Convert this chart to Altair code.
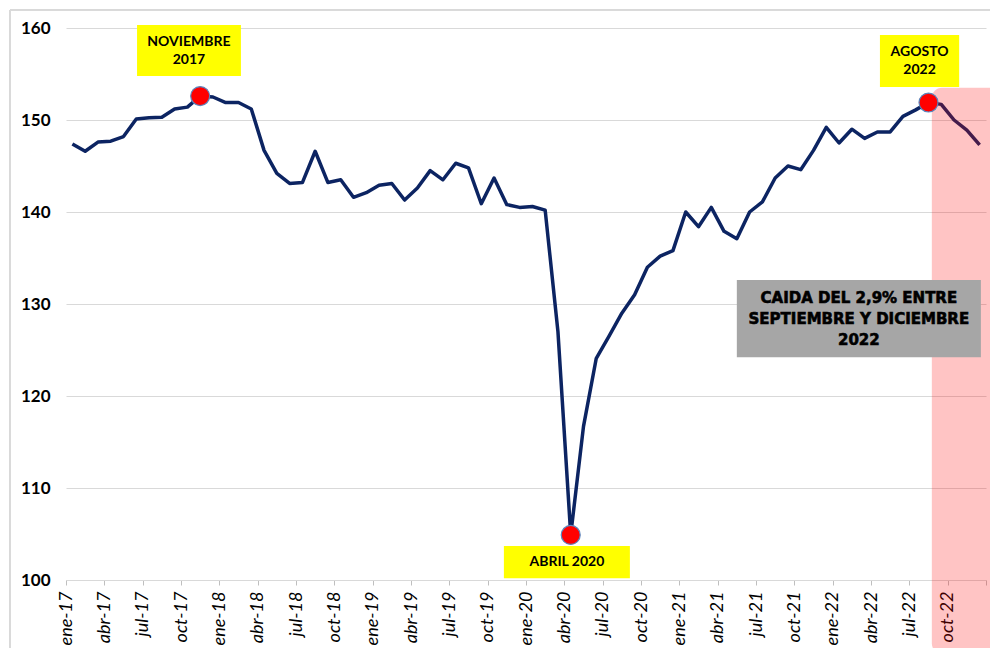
import altair as alt
import pandas as pd

MONTHS = ["ene", "feb", "mar", "abr", "may", "jun", "jul", "ago", "sep", "oct", "nov", "dic"]
YEARS = ["17", "18", "19", "20", "21", "22"]

VALUES = [
    147.4, 146.6, 147.6, 147.7, 148.2, 150.1, 150.25, 150.3, 151.2, 151.4,
    152.6, 152.5, 151.9, 151.9, 151.2, 146.7, 144.2, 143.1, 143.2, 146.6,
    143.2, 143.5, 141.6, 142.1, 142.9, 143.1, 141.3, 142.6, 144.5, 143.5,
    145.3, 144.8, 140.9, 143.7, 140.8, 140.5, 140.6, 140.2, 127.0, 104.9,
    116.7, 124.1, 126.5, 129.0, 131.0, 134.0, 135.2, 135.8, 140.0, 138.4,
    140.5, 137.9, 137.1, 140.0, 141.1, 143.7, 145.0, 144.6, 146.7, 149.2,
    147.5, 149.0, 148.0, 148.7, 148.7, 150.4, 151.1, 151.9, 151.7, 150.0,
    148.9, 147.3,
]

TICK_LABELS = [
    "ene-17", "abr-17", "jul-17", "oct-17", "ene-18", "abr-18", "jul-18", "oct-18",
    "ene-19", "abr-19", "jul-19", "oct-19", "ene-20", "abr-20", "jul-20", "oct-20",
    "ene-21", "abr-21", "jul-21", "oct-21", "ene-22", "abr-22", "jul-22", "oct-22", "",
]
Y_TICKS = [100, 110, 120, 130, 140, 150, 160]
PEAKS = ["nov-17", "abr-20", "ago-22"]

YELLOW_TEXTS = ["NOVIEMBRE\n2017", "ABRIL 2020", "AGOSTO\n2022"]
GRAY_TEXT = "CAIDA DEL 2,9% ENTRE\nSEPTIEMBRE Y DICIEMBRE\n2022"

labels = [f"{m}-{y}" for y in YEARS for m in MONTHS]
df = pd.DataFrame({"mes": labels, "x": [i + 0.5 for i in range(len(labels))], "y": VALUES})
peaks_df = df[df["mes"].isin(PEAKS)]

# annotation geometry (in data coordinates)
yellow_boxes = pd.DataFrame({
    "x": [5.56, 34.27, 63.7], "x2": [13.69, 44.13, 69.9],
    "y": [154.78, 100.2, 153.59], "y2": [160.33, 103.7, 159.24],
})
# y = position of the first text line
yellow_text = pd.DataFrame({
    "x": [9.62, 39.2, 66.8], "y": [158.45, 101.96, 157.4], "t": YELLOW_TEXTS,
})
gray_box = pd.DataFrame({"x": [52.5], "x2": [71.6], "y": [124.2], "y2": [132.6]})
gray_text = pd.DataFrame({"x": [62.05], "y": [130.7], "t": [GRAY_TEXT]})
pink = pd.DataFrame({"x": [67.76], "x2": [80.0], "y": [92.0], "y2": [153.5]})

xscale = alt.Scale(domain=[0, 72], nice=False, zero=False)
yscale = alt.Scale(domain=[100, 160], nice=False, zero=False)

label_expr = "[" + ",".join(f"'{t}'" for t in TICK_LABELS) + "][round(datum.value/3)]"

x_axis = alt.Axis(
    values=list(range(0, 73, 3)), labelExpr=label_expr, labelAngle=-90,
    labelAlign="right", labelBaseline="middle", labelFont="Lato",
    labelFontStyle="italic", labelFontSize=18, labelColor="#000000",
    labelPadding=6, tickSize=5, tickColor="#bfbfbf", domainColor="#d9d9d9",
    domainWidth=1, grid=False, labelOverlap=False, labelBound=False,
)
y_axis = alt.Axis(
    values=Y_TICKS, labelFont="Lato", labelFontWeight="bold", labelFontSize=17,
    labelColor="#000000", labelPadding=16, ticks=False, domain=False,
    grid=True, gridColor="#d9d9d9", gridWidth=1.2,
)


def X(f):
    return alt.X(f, scale=xscale, title=None, axis=x_axis)


def Y(f):
    return alt.Y(f, scale=yscale, title=None, axis=y_axis)


frame_top = alt.Chart(df).mark_rule(color="#d9d9d9", strokeWidth=1).encode(
    x=alt.value(-56), x2=alt.value(940), y=alt.value(-18)
)
frame_left = alt.Chart(df).mark_rule(color="#d9d9d9", strokeWidth=1).encode(
    x=alt.value(-56), y=alt.value(-18), y2=alt.value(640)
)

line = alt.Chart(df).mark_line(color="#0c2462", strokeWidth=3.5, strokeJoin="round").encode(
    x=X("x:Q"), y=Y("y:Q")
)

pink_rect = alt.Chart(pink).mark_rect(color="#ff0000", opacity=0.23, cornerRadius=10).encode(
    x=X("x:Q"), x2="x2:Q", y=Y("y:Q"), y2="y2:Q"
)

points = alt.Chart(peaks_df).mark_point(
    filled=True, shape="circle", size=360, color="#ff0000", stroke="#5a86be",
    strokeWidth=1.2, opacity=1,
).encode(x=X("x:Q"), y=Y("y:Q"))

ybox = alt.Chart(yellow_boxes).mark_rect(color="#ffff00").encode(
    x=X("x:Q"), x2="x2:Q", y=Y("y:Q"), y2="y2:Q"
)
ytext = alt.Chart(yellow_text).mark_text(
    font="Lato", fontWeight="bold", fontSize=14, color="#000000",
    lineBreak="\n", lineHeight=18, align="center", baseline="middle",
).encode(x=X("x:Q"), y=Y("y:Q"), text="t:N")

gbox = alt.Chart(gray_box).mark_rect(color="#a6a6a6").encode(
    x=X("x:Q"), x2="x2:Q", y=Y("y:Q"), y2="y2:Q"
)
gtext = alt.Chart(gray_text).mark_text(
    font="DejaVu Sans", fontWeight="bold", fontSize=15, color="#000000",
    stroke="#000000", strokeWidth=0.6,
    lineBreak="\n", lineHeight=21, align="center", baseline="middle",
).encode(x=X("x:Q"), y=Y("y:Q"), text="t:N")

chart = alt.layer(
    line, frame_top, frame_left, pink_rect, points, ybox, ytext, gbox, gtext
).properties(
    width=920, height=552,
    autosize=alt.AutoSizeParams(type="none"),
    padding={"left": 58, "top": 20, "right": 4, "bottom": 68},
    background="#ffffff",
).configure_view(stroke=None)

chart.save("out.html", embed_options={"renderer": "svg", "actions": False})
